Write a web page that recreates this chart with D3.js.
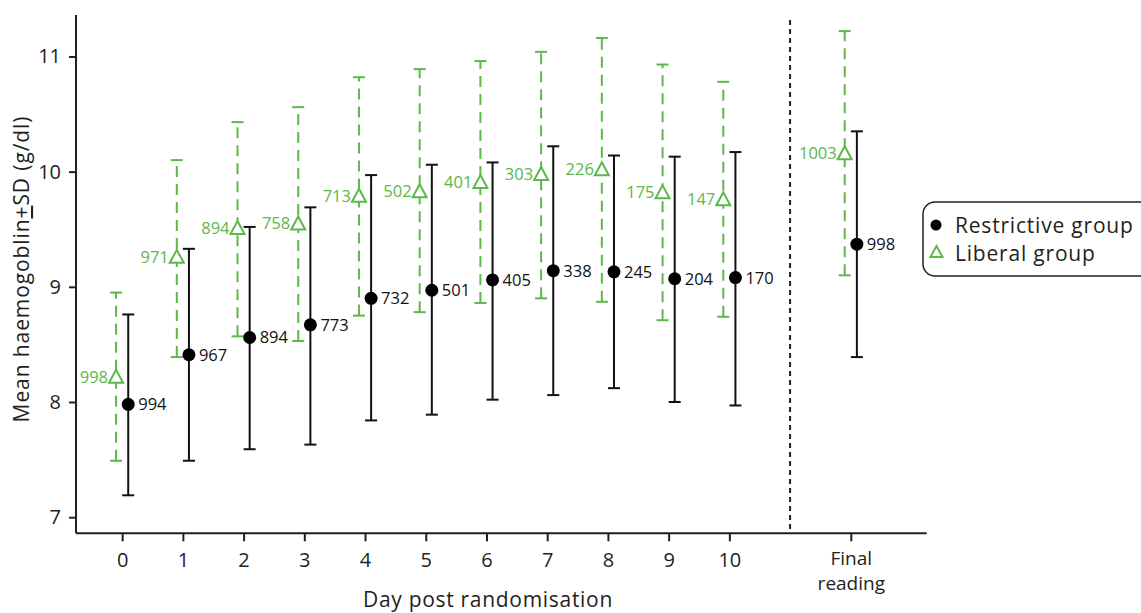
<!DOCTYPE html>
<html>
<head>
<meta charset="utf-8">
<script src="https://cdn.jsdelivr.net/npm/d3@7"></script>
<style>
  body { margin: 0; background: #fff; }
  svg { display: block; font-family: "Open Sans", "Noto Sans", sans-serif; }
  svg text { font-family: "Open Sans", "Noto Sans", sans-serif; }
</style>
</head>
<body>
<svg id="chart" width="1141" height="613"></svg>
<script>
// Category positions (day index; "Final reading" placed after a separator)
const categories = ["0","1","2","3","4","5","6","7","8","9","10","Final reading"];
const positions  = [0,1,2,3,4,5,6,7,8,9,10,12];
const separatorPos = 11;

// Restrictive group: mean, lower (mean-SD), upper (mean+SD), n
const restrictiveMean  = [7.98, 8.41, 8.56, 8.67, 8.90, 8.97, 9.06, 9.14, 9.13, 9.07, 9.08, 9.37];
const restrictiveLower = [7.19, 7.49, 7.59, 7.63, 7.84, 7.89, 8.02, 8.06, 8.12, 8.00, 7.97, 8.39];
const restrictiveUpper = [8.76, 9.33, 9.52, 9.69, 9.97, 10.06, 10.08, 10.22, 10.14, 10.13, 10.17, 10.35];
const restrictiveN     = [994, 967, 894, 773, 732, 501, 405, 338, 245, 204, 170, 998];

// Liberal group
const liberalMean  = [8.22, 9.26, 9.51, 9.55, 9.79, 9.83, 9.91, 9.98, 10.02, 9.82, 9.76, 10.16];
const liberalLower = [7.49, 8.39, 8.57, 8.53, 8.75, 8.78, 8.86, 8.90, 8.87, 8.71, 8.74, 9.10];
const liberalUpper = [8.95, 10.10, 10.43, 10.56, 10.82, 10.89, 10.96, 11.04, 11.16, 10.93, 10.78, 11.22];
const liberalN     = [998, 971, 894, 758, 713, 502, 401, 303, 226, 175, 147, 1003];

const yTicks = [7, 8, 9, 10, 11];

const GREEN = "#5cb849";
const INK = "#231f20";
const FONT = "Open Sans";
const svg = d3.select("#chart");

const x = d3.scaleLinear().domain([-0.76, 13.25]).range([76, 926.7]);
const y = d3.scaleLinear().domain([6.86, 11.36]).range([533.3, 15]);
const off = 0.1;

// Axes
const yAxis = d3.axisLeft(y).tickValues(yTicks).tickSize(7).tickPadding(8).tickFormat(d3.format("d"));
const gy = svg.append("g").attr("transform", `translate(${x.range()[0]},0)`).call(yAxis)
  .attr("font-family", FONT);
gy.select(".domain").attr("stroke", INK).attr("stroke-width", 2).attr("d", `M0,${y.range()[1]}V${y.range()[0]}`);
gy.selectAll(".tick line").attr("stroke", INK).attr("stroke-width", 2);
gy.selectAll(".tick text").attr("font-size", 20).attr("fill", INK);

const xAxis = d3.axisBottom(x).tickValues(positions).tickSize(8).tickPadding(6).tickFormat(() => "");
const gx = svg.append("g").attr("transform", `translate(0,${y.range()[0]})`).call(xAxis)
  .attr("font-family", FONT);
gx.select(".domain").attr("stroke", INK).attr("stroke-width", 2).attr("d", `M${x.range()[0]},0H${x.range()[1]}`);
gx.selectAll(".tick line").attr("stroke", INK).attr("stroke-width", 2);
gx.selectAll(".tick").each(function(d, i) {
  const g = d3.select(this);
  const lab = categories[i];
  if (lab === "Final reading") {
    const words = lab.split(" ");
    g.append("text").attr("fill", INK).attr("font-size", 19).attr("text-anchor", "middle").attr("y", 32).text(words[0]);
    g.append("text").attr("fill", INK).attr("font-size", 19).attr("text-anchor", "middle").attr("y", 57).text(words[1]);
  } else {
    g.append("text").attr("fill", INK).attr("font-size", 20).attr("text-anchor", "middle").attr("y", 34).text(lab);
  }
});

// Separator
svg.append("line")
  .attr("x1", x(separatorPos)).attr("x2", x(separatorPos))
  .attr("y1", 20).attr("y2", y.range()[0])
  .attr("stroke", INK).attr("stroke-width", 2).attr("stroke-dasharray", "5,4");

// Axis titles
svg.append("text").attr("x", 488).attr("y", 607).attr("text-anchor", "middle")
  .attr("font-size", 21).attr("letter-spacing", 0.7).attr("fill", INK).text("Day post randomisation");
const yt = svg.append("text").attr("transform", "translate(29,269) rotate(-90)")
  .attr("text-anchor", "middle").attr("font-size", 21).attr("letter-spacing", 0.9).attr("fill", INK);
yt.append("tspan").text("Mean haemogoblin");
yt.append("tspan").attr("text-decoration", "underline").text("+");
yt.append("tspan").text("SD (g/dl)");

const cap = 6;
// Liberal group (green, dashed)
const lib = svg.append("g");
positions.forEach((p, i) => {
  const cx = x(p - off);
  lib.append("line").attr("x1", cx).attr("x2", cx).attr("y1", y(liberalLower[i])).attr("y2", y(liberalUpper[i]))
    .attr("stroke", GREEN).attr("stroke-width", 2).attr("stroke-dasharray", "11,7");
  [liberalLower[i], liberalUpper[i]].forEach(v => {
    lib.append("line").attr("x1", cx - cap).attr("x2", cx + cap).attr("y1", y(v)).attr("y2", y(v))
      .attr("stroke", GREEN).attr("stroke-width", 2);
  });
  const cy = y(liberalMean[i]);
  lib.append("path").attr("d", `M${cx},${cy - 7}L${cx + 7},${cy + 6}L${cx - 7},${cy + 6}Z`)
    .attr("fill", "#fff").attr("stroke", GREEN).attr("stroke-width", 2);
  lib.append("text").attr("x", cx - 8).attr("y", cy + 6).attr("text-anchor", "end")
    .attr("font-size", 16.5).attr("fill", GREEN).text(liberalN[i]);
});

// Restrictive group (black, solid)
const res = svg.append("g");
positions.forEach((p, i) => {
  const cx = x(p + off);
  res.append("line").attr("x1", cx).attr("x2", cx).attr("y1", y(restrictiveLower[i])).attr("y2", y(restrictiveUpper[i]))
    .attr("stroke", "#111").attr("stroke-width", 2);
  [restrictiveLower[i], restrictiveUpper[i]].forEach(v => {
    res.append("line").attr("x1", cx - cap).attr("x2", cx + cap).attr("y1", y(v)).attr("y2", y(v))
      .attr("stroke", "#111").attr("stroke-width", 2);
  });
  const cy = y(restrictiveMean[i]);
  res.append("circle").attr("cx", cx).attr("cy", cy).attr("r", 6.5).attr("fill", "#000");
  res.append("text").attr("x", cx + 10).attr("y", cy + 6)
    .attr("font-size", 16.5).attr("fill", "#111").text(restrictiveN[i]);
});

// Legend
const lg = svg.append("g");
lg.append("rect").attr("x", 923).attr("y", 202).attr("width", 230).attr("height", 74)
  .attr("rx", 12).attr("fill", "#fff").attr("stroke", INK).attr("stroke-width", 1.5);
lg.append("circle").attr("cx", 936).attr("cy", 225).attr("r", 5.5).attr("fill", "#000");
lg.append("path").attr("d", "M936.5,246L942.5,257L930.5,257Z").attr("fill", "#fff").attr("stroke", GREEN).attr("stroke-width", 2);
lg.append("text").attr("x", 955).attr("y", 233).attr("font-size", 21).attr("letter-spacing", 0.8).attr("fill", INK).text("Restrictive group");
lg.append("text").attr("x", 955).attr("y", 261).attr("font-size", 21).attr("letter-spacing", 0.8).attr("fill", INK).text("Liberal group");
</script>
</body>
</html>
